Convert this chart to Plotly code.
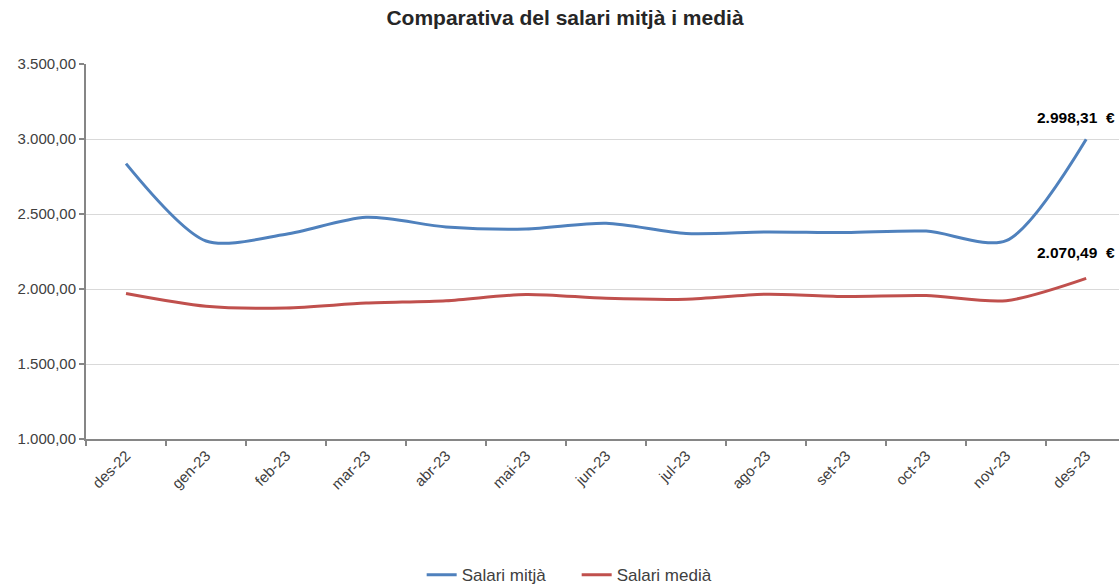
import plotly.graph_objects as go

categories = ["des-22", "gen-23", "feb-23", "mar-23", "abr-23", "mai-23", "jun-23",
              "jul-23", "ago-23", "set-23", "oct-23", "nov-23", "des-23"]
salari_mitja = [2836, 2320, 2365, 2478, 2414, 2400, 2438, 2370, 2380, 2376, 2386, 2322, 2998.31]
salari_media = [1970, 1885, 1874, 1906, 1922, 1964, 1938, 1932, 1965, 1950, 1956, 1922, 2070.49]
y_ticks = [1000, 1500, 2000, 2500, 3000, 3500]

FONT = "Liberation Sans, Arial, sans-serif"
BLUE = "#4F81BD"
RED = "#C0504D"


def fmt(v):
    s = f"{v:,.2f}"
    return s.replace(",", "X").replace(".", ",").replace("X", ".")


fig = go.Figure()
fig.add_trace(go.Scatter(x=categories, y=salari_mitja, mode="lines",
                         name="Salari mitjà",
                         line=dict(color=BLUE, width=3, shape="spline", smoothing=0.8)))
fig.add_trace(go.Scatter(x=categories, y=salari_media, mode="lines",
                         name="Salari medià",
                         line=dict(color=RED, width=3, shape="spline", smoothing=0.8)))

for vals, ysh in ((salari_mitja, 22), (salari_media, 26)):
    fig.add_annotation(x=categories[-1], y=vals[-1], xref="x", yref="y",
                       text=f"<b>{fmt(vals[-1])}  €</b>", showarrow=False,
                       xanchor="right", yanchor="middle", xshift=31, yshift=ysh,
                       font=dict(family=FONT, size=15.5, color="#000000"))

fig.update_layout(
    width=1119, height=585,
    paper_bgcolor="white", plot_bgcolor="white",
    separators=",.",
    margin=dict(l=86, r=0, t=64, b=146, autoexpand=False),
    title=dict(text="<b>Comparativa del salari mitjà i medià</b>", x=0.4637, xref="paper",
               xanchor="center", y=1 - 18 / 585, yanchor="middle", automargin=False,
               font=dict(family=FONT, size=21, color="#262626")),
    font=dict(family=FONT, color="#404040"),
    showlegend=True,
    legend=dict(orientation="h", x=0.475, xanchor="center", y=-0.363, yanchor="middle",
                font=dict(family=FONT, size=17, color="#404040"),
                itemwidth=30, tracegroupgap=0, entrywidth=110, entrywidthmode="pixels"),
    xaxis=dict(
        type="category", categoryorder="array", categoryarray=categories,
        range=[-0.5, 12.41], tickson="boundaries", ticks="outside", ticklen=5,
        tickcolor="#868686", tickwidth=2, tickangle=-45, automargin=False,
        showline=True, linecolor="#868686", linewidth=2,
        showgrid=False, zeroline=False,
        tickfont=dict(family=FONT, size=15, color="#404040"),
    ),
    yaxis=dict(
        range=[1000, 3500], tickvals=y_ticks, tickformat=",.2f", automargin=False,
        ticks="outside", ticklen=5, tickcolor="#868686", tickwidth=2,
        showline=True, linecolor="#868686", linewidth=2,
        showgrid=True, gridcolor="#D9D9D9", gridwidth=1, zeroline=False,
        tickfont=dict(family=FONT, size=15, color="#404040"),
    ),
)

fig.write_html("out.html", config={"displayModeBar": False},
               post_script="document.body.style.margin='0';")
